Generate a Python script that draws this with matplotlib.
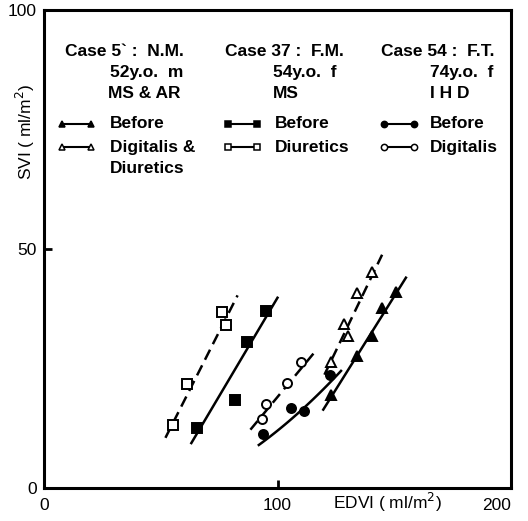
import numpy as np
import matplotlib
matplotlib.use("Agg")
import matplotlib.pyplot as plt
from matplotlib.lines import Line2D

plt.rcParams['font.family'] = ['Liberation Sans', 'DejaVu Sans']

# ---- Case 5 (N.M.) : triangles ----
c5_before_edvi = [150.7, 144.7, 140.5, 134.1, 122.9]
c5_before_svi = [40.9, 37.7, 31.9, 27.7, 19.5]
c5_after_edvi = [140.5, 134.1, 128.5, 130.2, 122.9]
c5_after_svi = [45.1, 40.7, 34.4, 31.9, 26.4]
c5_before_line_x = [119.6, 155.0]
c5_before_line_y = [16.4, 44.0]
c5_after_line_x = [120.1, 144.8]
c5_after_line_y = [23.7, 48.8]

# ---- Case 37 (F.M.) : squares ----
c37_before_edvi = [95.2, 87.0, 81.9, 65.7]
c37_before_svi = [37.1, 30.6, 18.4, 12.6]
c37_after_edvi = [76.4, 78.1, 61.4, 55.4]
c37_after_svi = [36.9, 34.2, 21.8, 13.2]
c37_before_line_x = [63.1, 100.0]
c37_before_line_y = [9.4, 39.8]
c37_after_line_x = [52.0, 82.9]
c37_after_line_y = [10.5, 40.3]

# ---- Case 54 (F.T.) : circles ----
c54_before_edvi = [122.5, 105.9, 111.4, 93.9]
c54_before_svi = [23.7, 16.8, 16.1, 11.3]
c54_after_edvi = [110.1, 104.1, 95.1, 93.5]
c54_after_svi = [26.4, 22.0, 17.6, 14.5]
c54_before_curve_x = [92.0, 110.5, 127.2]
c54_before_curve_y = [9.0, 16.4, 24.5]
c54_after_line_x = [88.4, 115.7]
c54_after_line_y = [12.2, 28.3]

x_ticks = [0, 100, 200]
y_ticks = [0, 50, 100]

W, H = 528, 521
fig = plt.figure(figsize=(W / 100, H / 100), dpi=100)
ax = fig.add_axes([44 / W, 1 - 488 / H, (511 - 44) / W, (488 - 10) / H])
ax.set_xlim(0, 200)
ax.set_ylim(0, 100)

LW = 1.8
DASH = (0, (4.5, 2.5))

# regression lines
ax.plot(c5_before_line_x, c5_before_line_y, color='black', lw=LW)
ax.plot(c5_after_line_x, c5_after_line_y, color='black', lw=LW, linestyle=DASH)
ax.plot(c37_before_line_x, c37_before_line_y, color='black', lw=LW)
ax.plot(c37_after_line_x, c37_after_line_y, color='black', lw=LW, linestyle=DASH)
coef = np.polyfit(c54_before_curve_x, c54_before_curve_y, 2)
xs = np.linspace(c54_before_curve_x[0], c54_before_curve_x[-1], 60)
ax.plot(xs, np.polyval(coef, xs), color='black', lw=LW)
ax.plot(c54_after_line_x, c54_after_line_y, color='black', lw=LW, linestyle=DASH)

# data points
mk = dict(linestyle='none', markeredgecolor='black', markeredgewidth=1.4, zorder=3)
ax.plot(c5_before_edvi, c5_before_svi, marker='^', markersize=7.5, markerfacecolor='black', **mk)
ax.plot(c5_after_edvi, c5_after_svi, marker='^', markersize=7.5, markerfacecolor='white', **mk)
ax.plot(c37_before_edvi, c37_before_svi, marker='s', markersize=7, markerfacecolor='black', **mk)
ax.plot(c37_after_edvi, c37_after_svi, marker='s', markersize=7, markerfacecolor='white', **mk)
ax.plot(c54_before_edvi, c54_before_svi, marker='o', markersize=6.5, markerfacecolor='black', **mk)
ax.plot(c54_after_edvi, c54_after_svi, marker='o', markersize=6.5, markerfacecolor='white', **mk)

# axes styling
for s in ax.spines.values():
    s.set_linewidth(2.2)
ax.set_xticks(x_ticks)
ax.set_xticklabels([str(v) for v in x_ticks])
ax.set_yticks(y_ticks)
ax.set_yticklabels([str(v) for v in y_ticks])
ax.tick_params(direction='in', length=6, width=2, labelsize=12.5, pad=7)
ax.tick_params(axis='y', pad=5)
ax.get_xticklabels()[-1].set_ha('right')
ax.get_xticklabels()[-1].set_x(201)

# axis labels
fig.text(333 / W, 1 - 502 / H, 'EDVI ( ml/m$^{2}$)', fontsize=12.5, ha='left', va='center')
fig.text(25 / W, 1 - 132 / H, 'SVI ( ml/m$^{2}$)', fontsize=12.5, rotation=90,
         ha='center', va='center')


def ftext(px, py, s, **kw):
    fig.text(px / W, 1 - py / H, s, fontsize=12.5, fontweight='bold',
             ha='left', va='center', **kw)


def fkey(x0, x1, py, marker, face, ms):
    fig.add_artist(Line2D([x0 / W, x1 / W], [1 - py / H, 1 - py / H],
                          color='black', lw=1.5, marker=marker, markersize=ms,
                          markerfacecolor=face, markeredgecolor='black',
                          markeredgewidth=1.1))


# case headers and keys
ftext(65, 52, 'Case 5` :  N.M.')
ftext(110, 73, '52y.o.  m')
ftext(108, 94, 'MS & AR')
fkey(62, 91, 124, '^', 'black', 5)
ftext(110, 124, 'Before')
fkey(62, 91, 147, '^', 'white', 5)
ftext(110, 147, 'Digitalis &')
ftext(110, 168, 'Diuretics')

ftext(225, 52, 'Case 37 :  F.M.')
ftext(273, 73, '54y.o.  f')
ftext(273, 94, 'MS')
fkey(228, 257, 124, 's', 'black', 5)
ftext(275, 124, 'Before')
fkey(228, 257, 147, 's', 'white', 5)
ftext(275, 147, 'Diuretics')

ftext(381, 52, 'Case 54 :  F.T.')
ftext(430, 73, '74y.o.  f')
ftext(430, 94, 'I H D')
fkey(384, 414, 124, 'o', 'black', 4.5)
ftext(430, 124, 'Before')
fkey(384, 414, 147, 'o', 'white', 4.5)
ftext(430, 147, 'Digitalis')

fig.savefig('out.png', dpi=100)
